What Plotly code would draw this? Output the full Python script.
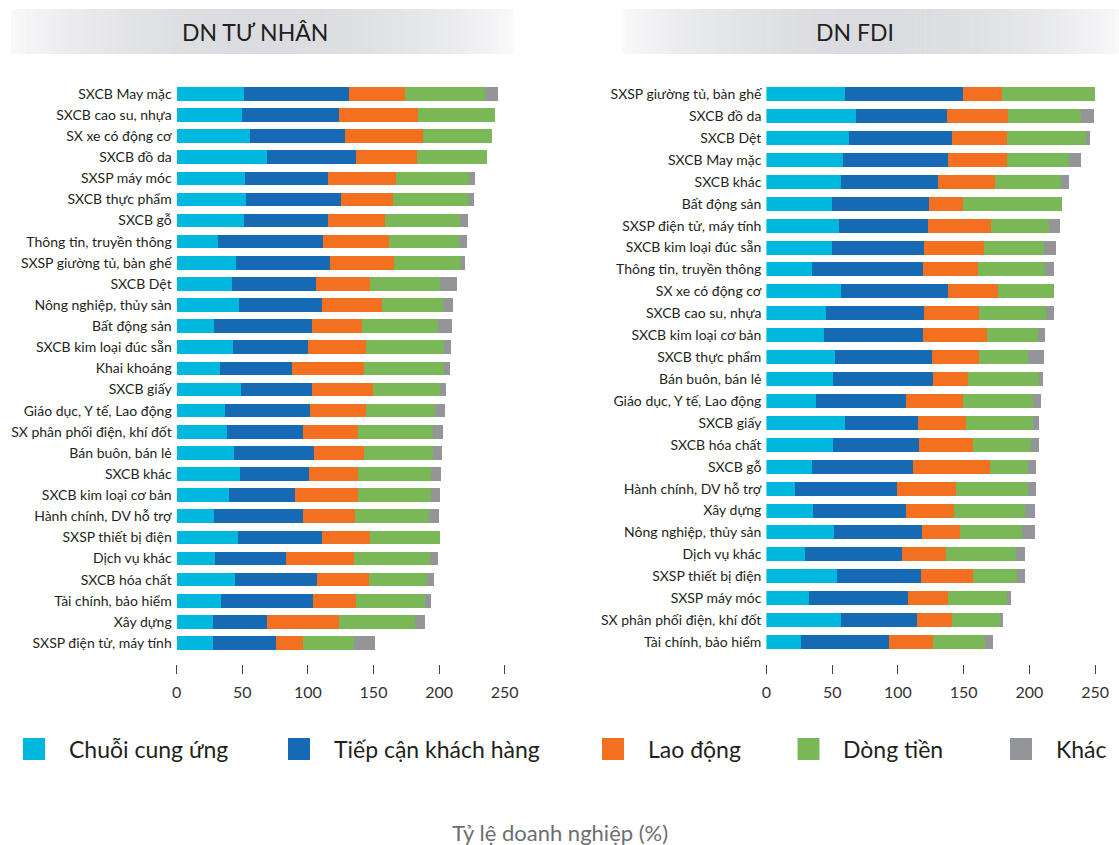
import math
import plotly.graph_objects as go

# ---- data -------------------------------------------------------------
SERIES = ["Chuỗi cung ứng", "Tiếp cận khách hàng", "Lao động", "Dòng tiền", "Khác"]
COLORS = ["#00b7de", "#166ab3", "#f37021", "#7ab857", "#949599"]

PRIVATE_SECTORS = [
    "SXCB May mặc", "SXCB cao su, nhựa", "SX xe có động cơ", "SXCB đồ da",
    "SXSP máy móc", "SXCB thực phẩm", "SXCB gỗ", "Thông tin, truyền thông",
    "SXSP giường tủ, bàn ghế", "SXCB Dệt", "Nông nghiệp, thủy sản",
    "Bất động sản", "SXCB kim loại đúc sẵn", "Khai khoáng", "SXCB giấy",
    "Giáo dục, Y tế, Lao động", "SX phân phối điện, khí đốt",
    "Bán buôn, bán lẻ", "SXCB khác", "SXCB kim loại cơ bản",
    "Hành chính, DV hỗ trợ", "SXSP thiết bị điện", "Dịch vụ khác",
    "SXCB hóa chất", "Tài chính, bảo hiểm", "Xây dựng", "SXSP điện tử, máy tính",
]
PRIVATE_SUPPLY = [51.5, 50, 56, 68.5, 52, 53, 51.5, 31.5, 45.5, 42.5, 47.5, 28.5, 43, 33,
                  49, 36.5, 38, 44, 48.5, 40, 28.5, 47, 29.5, 44.5, 34, 28, 28]
PRIVATE_CUSTOMER = [79.5, 74, 72, 68.5, 63.5, 72, 64, 80, 71, 64, 63, 75, 57, 55,
                    54.5, 65, 58.5, 61, 52.5, 50, 68, 64, 53.5, 62.5, 70, 40.5, 48]
PRIVATE_LABOR = [43, 60, 60, 46.5, 52, 40, 43.5, 50.5, 49.5, 40.5, 46, 38, 44, 55,
                 46, 42.5, 41.5, 38, 37, 48, 39.5, 36, 52, 39.5, 33, 55.5, 20]
PRIVATE_CASHFLOW = [61, 58.5, 52, 53, 55.5, 58, 57, 53.5, 50.5, 54, 46.5, 58, 59.5, 60.5,
                    51, 53, 57.5, 52, 56, 55.5, 56.5, 53.5, 58, 44, 52.5, 58, 39.5]
PRIVATE_OTHER = [10, 0, 0, 0, 4.5, 3.5, 6, 5.5, 3, 12.5, 7.5, 10, 5.5, 4.5,
                 4.5, 7.5, 7.5, 7, 7.5, 7.5, 7.5, 0, 6, 5.5, 4.5, 7, 16]

FDI_SECTORS = [
    "SXSP giường tủ, bàn ghế", "SXCB đồ da", "SXCB Dệt", "SXCB May mặc",
    "SXCB khác", "Bất động sản", "SXSP điện tử, máy tính",
    "SXCB kim loại đúc sẵn", "Thông tin, truyền thông", "SX xe có động cơ",
    "SXCB cao su, nhựa", "SXCB kim loại cơ bản", "SXCB thực phẩm",
    "Bán buôn, bán lẻ", "Giáo dục, Y tế, Lao động", "SXCB giấy",
    "SXCB hóa chất", "SXCB gỗ", "Hành chính, DV hỗ trợ", "Xây dựng",
    "Nông nghiệp, thủy sản", "Dịch vụ khác", "SXSP thiết bị điện",
    "SXSP máy móc", "SX phân phối điện, khí đốt", "Tài chính, bảo hiểm",
]
FDI_SUPPLY = [59.5, 68.5, 63, 58.5, 56.5, 49.5, 55, 50, 35, 57, 45, 43.5, 52,
              51, 38, 59.5, 51, 35, 22, 35.5, 51.5, 29.5, 54, 32.5, 56.5, 26.5]
FDI_CUSTOMER = [90, 68.5, 78, 79.5, 74, 74.5, 68, 69.5, 84, 81, 74.5, 75.5, 74,
                75.5, 68, 55.5, 65, 76.5, 77, 71, 66.5, 73.5, 63.5, 75.5, 58, 66.5]
FDI_LABOR = [29.5, 46.5, 42, 45, 43.5, 25.5, 48, 46, 42, 38, 42.5, 48.5, 35.5,
             26.5, 43.5, 36.5, 41, 58.5, 45, 36, 29, 33.5, 39.5, 30, 26.5, 33.5]
FDI_CASHFLOW = [70.5, 55.5, 60, 47, 50, 75.5, 43.5, 45.5, 51, 42.5, 50.5, 39, 37.5,
                54, 53.5, 51, 44, 29, 55, 54, 47, 53, 33.5, 45, 36.5, 40]
FDI_OTHER = [0, 10, 3, 9.5, 6, 0, 9, 9, 7, 0, 6, 5.5, 12,
             3, 5.5, 4.5, 6.5, 6, 6, 7.5, 10, 7, 6.5, 3, 2.5, 5.5]

PANEL_TITLES = ["DN TƯ NHÂN", "DN FDI"]
X_TITLE = "Tỷ lệ doanh nghiệp (%)"
X_TICKS = [0, 50, 100, 150, 200, 250]

# ---- figure -----------------------------------------------------------
W, H = 1119, 845
FONT = "Lato"
TEXT = "#231f20"

fig = go.Figure()

panels = [
    (PRIVATE_SECTORS, [PRIVATE_SUPPLY, PRIVATE_CUSTOMER, PRIVATE_LABOR, PRIVATE_CASHFLOW, PRIVATE_OTHER], "x", "y"),
    (FDI_SECTORS, [FDI_SUPPLY, FDI_CUSTOMER, FDI_LABOR, FDI_CASHFLOW, FDI_OTHER], "x2", "y2"),
]
for sectors, values, xa, ya in panels:
    for name, color, vals in zip(SERIES, COLORS, values):
        fig.add_trace(go.Bar(
            y=sectors, x=vals, name=name, orientation="h",
            marker=dict(color=color, line=dict(width=0)),
            xaxis=xa, yaxis=ya, showlegend=False,
        ))


def px_x(v):
    return v / W


def px_y(v):
    return 1 - v / H


plot_top, plot_bottom = 83.2, 664
y_dom = [px_y(plot_bottom), px_y(plot_top)]

xcommon = dict(
    range=[0, 250], tickvals=X_TICKS, showgrid=False, zeroline=False, showline=False,
    ticks="outside", ticklen=9, tickwidth=1.3, tickcolor="#444",
    tickfont=dict(family=FONT, size=16, color="#333"), ticklabelstandoff=5,
    fixedrange=True, automargin=False,
)
ycommon = dict(
    type="category", showgrid=False, zeroline=False, showline=False, ticks="",
    tickfont=dict(family=FONT, size=14, color=TEXT), ticklabelstandoff=4,
    fixedrange=True, automargin=False,
)


# rows are evenly spaced between the first and last bar centres
def y_range(n_rows, first_c, last_c):
    step = (last_c - first_c) / (n_rows - 1)
    top = first_c - step / 2
    bottom_idx = (plot_bottom - top) / step - 0.5
    return [bottom_idx, -0.5]


r1 = y_range(len(PRIVATE_SECTORS), 94, 643)
r2 = y_range(len(FDI_SECTORS), 94, 642)

fig.update_layout(
    width=W, height=H, autosize=False,
    margin=dict(l=0, r=0, t=0, b=0, pad=0),
    paper_bgcolor="white", plot_bgcolor="white",
    barmode="stack", bargap=0.36,
    xaxis=dict(domain=[px_x(176.7), px_x(504.7)], anchor="y", **xcommon),
    xaxis2=dict(domain=[px_x(766.4), px_x(1095.2)], anchor="y2", **xcommon),
    yaxis=dict(domain=y_dom, anchor="x", range=r1, categoryorder="array",
               categoryarray=PRIVATE_SECTORS, **ycommon),
    yaxis2=dict(domain=y_dom, anchor="x2", range=r2, categoryorder="array",
                categoryarray=FDI_SECTORS, **ycommon),
    showlegend=False,
)

shapes = []
annotations = []


# panel header bands: light at both ends, grey in the middle
def header_band(x0, x1, y0, y1, n=100):
    out = []
    w = (x1 - x0) / n
    lo = (250, 250, 251)
    hi = (219, 220, 223)
    for i in range(n):
        t = (i + 0.5) / n
        f = math.sin(math.pi * t) ** 0.75
        c = tuple(round(lo[k] + (hi[k] - lo[k]) * f) for k in range(3))
        out.append(dict(
            type="rect", xref="paper", yref="paper", layer="below",
            x0=px_x(x0 + i * w), x1=px_x(x0 + (i + 1) * w + 0.6),
            y0=px_y(y1), y1=px_y(y0),
            line=dict(width=0), fillcolor="rgb(%d,%d,%d)" % c,
        ))
    return out


shapes += header_band(11, 513, 9, 54)
shapes += header_band(622, 1119, 9, 54)

for title, cx in zip(PANEL_TITLES, [255, 855]):
    annotations.append(dict(
        text=title, x=px_x(cx), y=px_y(32), xref="paper", yref="paper",
        xanchor="center", yanchor="middle", showarrow=False,
        font=dict(family=FONT, size=23, color=TEXT),
    ))

# legend row
legend_sq = [23, 288, 602, 797.5, 1010]
legend_y, sq = 749, 22
for name, color, x0 in zip(SERIES, COLORS, legend_sq):
    shapes.append(dict(
        type="rect", xref="paper", yref="paper",
        x0=px_x(x0), x1=px_x(x0 + sq),
        y0=px_y(legend_y + sq / 2), y1=px_y(legend_y - sq / 2),
        line=dict(width=0), fillcolor=color,
    ))
    annotations.append(dict(
        text=name, x=px_x(x0 + sq + 22), y=px_y(legend_y), xref="paper", yref="paper",
        xanchor="left", yanchor="middle", showarrow=False,
        font=dict(family=FONT, size=23, color=TEXT),
    ))

annotations.append(dict(
    text=X_TITLE, x=px_x(560), y=px_y(832), xref="paper", yref="paper",
    xanchor="center", yanchor="middle", showarrow=False,
    font=dict(family=FONT, size=22, color="#6d6e71"),
))

fig.update_layout(shapes=shapes, annotations=annotations)
fig.write_html("out.html", config={"responsive": False, "displayModeBar": False})
